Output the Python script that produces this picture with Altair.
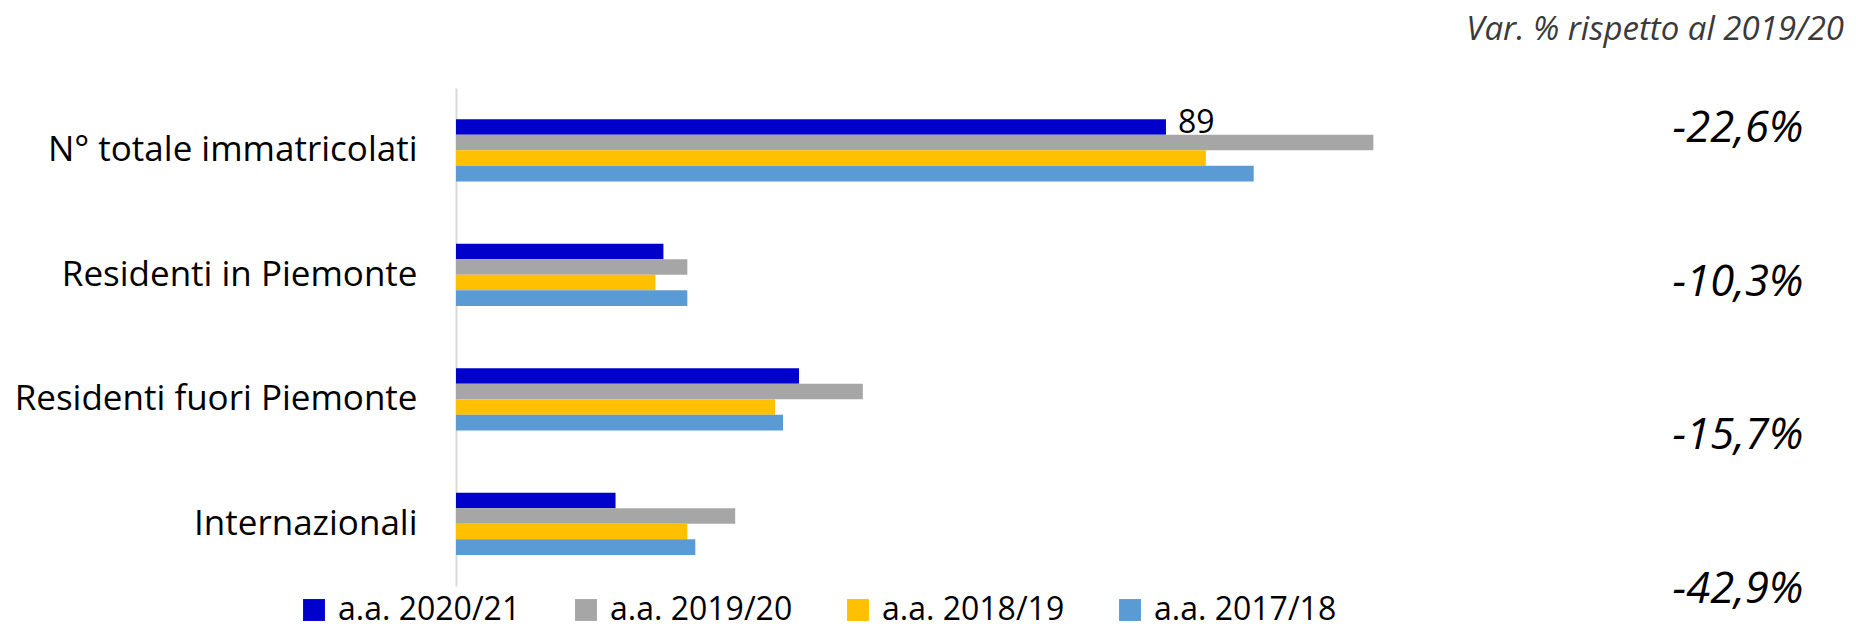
import altair as alt
import pandas as pd

categories = ["N° totale immatricolati", "Residenti in Piemonte",
              "Residenti fuori Piemonte", "Internazionali"]
series = ["a.a. 2020/21", "a.a. 2019/20", "a.a. 2018/19", "a.a. 2017/18"]
v_2020_21 = [89, 26, 43, 20]
v_2019_20 = [115, 29, 51, 35]
v_2018_19 = [94, 25, 40, 29]
v_2017_18 = [100, 29, 41, 30]
colors = ["#0000CC", "#A6A6A6", "#FFC000", "#5B9BD5"]
variations = ["-22,6%", "-10,3%", "-15,7%", "-42,9%"]
labelled = [("N° totale immatricolati", "a.a. 2020/21")]
note = "Var. % rispetto al 2019/20"

rows = []
for s, vals in zip(series, [v_2020_21, v_2019_20, v_2018_19, v_2017_18]):
    for c, v in zip(categories, vals):
        rows.append({"category": c, "series": s, "value": v,
                     "label": str(v) if (c, s) in labelled else ""})
df = pd.DataFrame(rows)
ann_df = pd.DataFrame({"category": categories, "variation": variations})
note_df = pd.DataFrame({"t": [note]})

W, H = 1392, 498
FONT = "Open Sans"

xenc = alt.X("value:Q", axis=None,
             scale=alt.Scale(domain=[0, 174.5], nice=False, zero=True))
band = alt.Scale(domain=categories, paddingInner=0.5, paddingOuter=0.25)
yenc = alt.Y("category:N", sort=categories, title=None, scale=band,
             axis=alt.Axis(ticks=False, tickSize=0, grid=False,
                           domainColor="#d9d9d9", domainWidth=2,
                           labelFont=FONT, labelFontSize=35,
                           labelColor="#000000", labelPadding=39,
                           labelLimit=0))
yoff = alt.YOffset("series:N", sort=series,
                   scale=alt.Scale(domain=series, paddingInner=0,
                                   paddingOuter=0))

bars = alt.Chart(df).mark_bar().encode(
    x=xenc, y=yenc, yOffset=yoff,
    color=alt.Color("series:N", sort=series,
                    scale=alt.Scale(domain=series, range=colors),
                    legend=alt.Legend(title=None, orient="none",
                                      legendX=-158, legendY=506,
                                      direction="horizontal",
                                      symbolType="square", symbolSize=480,
                                      symbolStrokeWidth=0,
                                      labelFont=FONT, labelFontSize=32,
                                      labelColor="#000000", labelOffset=8,
                                      columnPadding=49, padding=0,
                                      labelLimit=0)),
)

lab = alt.Chart(df).mark_text(
    align="left", baseline="middle", dx=12, dy=-4,
    font=FONT, fontSize=32, color="#000000"
).encode(x=xenc,
         y=alt.Y("category:N", sort=categories, scale=band, axis=None),
         yOffset=yoff, text="label:N")

ann = alt.Chart(ann_df).mark_text(
    font=FONT, fontSize=43.5, fontStyle="italic", align="center",
    baseline="middle", color="#000000"
).encode(
    x=alt.value(1282),
    y=alt.Y("category:N", sort=categories,
            scale=alt.Scale(type="point", domain=categories,
                            range=[41, 502], padding=0),
            axis=None),
    text="variation:N",
)

note_chart = alt.Chart(note_df).mark_text(
    font=FONT, fontSize=33, fontStyle="italic", align="right",
    baseline="alphabetic", color="#3a3a3a"
).encode(x=alt.value(W - 4), y=alt.value(-48), text="t:N")

chart = alt.layer(bars, lab, ann, note_chart).resolve_scale(
    y="independent"
).properties(
    width=W, height=H,
    padding={"left": 448, "top": 80, "right": 0, "bottom": 41},
    autosize=alt.AutoSizeParams(type="none"),
    background="#ffffff",
).configure_view(stroke=None)

chart.save("out.html", embed_options={"renderer": "svg", "actions": False})
